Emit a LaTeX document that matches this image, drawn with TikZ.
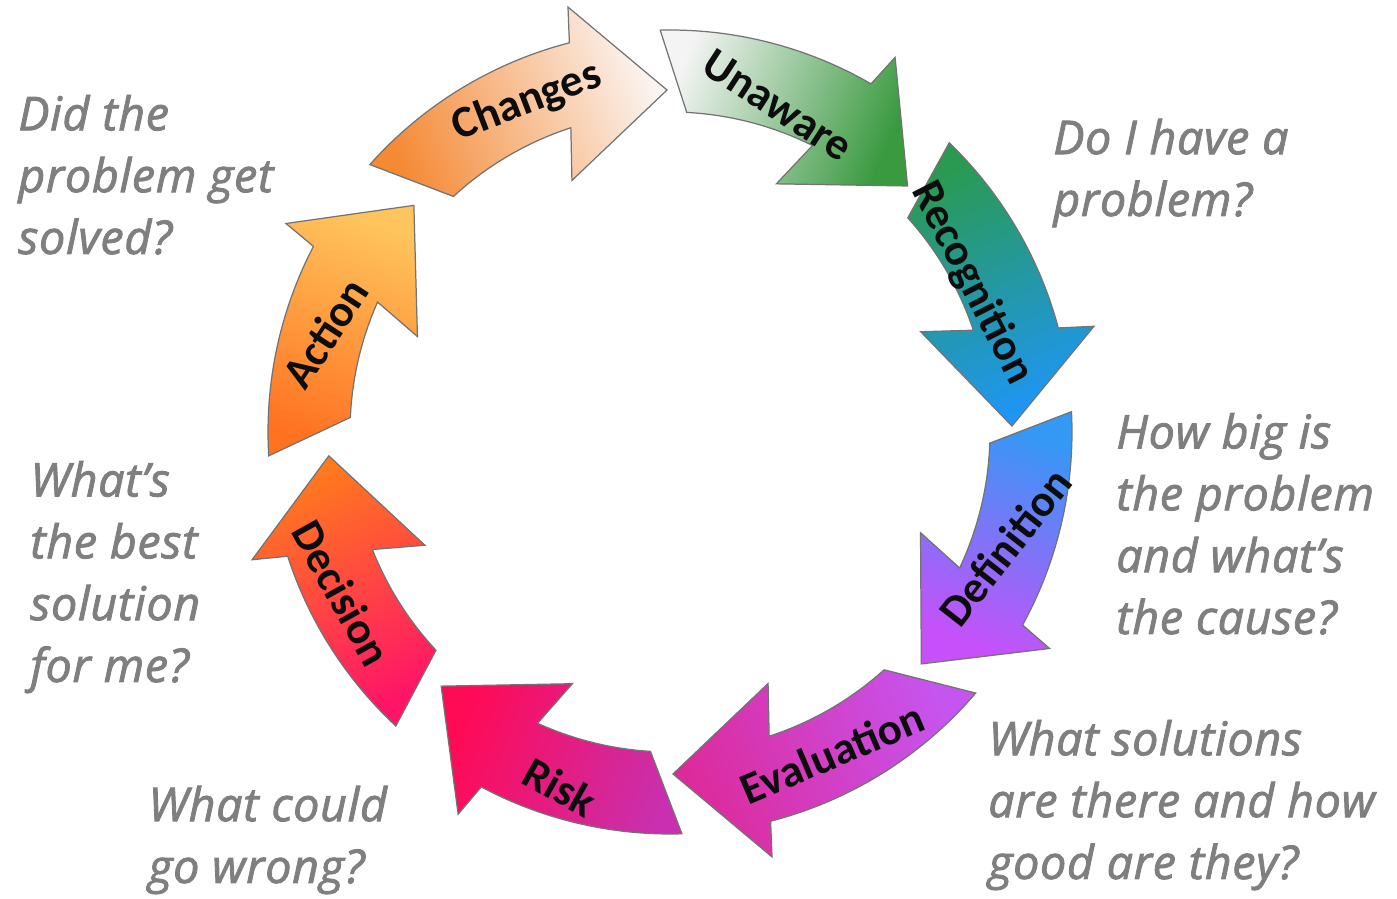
\documentclass[tikz,border=0pt]{standalone}
\usepackage{fontspec}
\setmainfont{Carlito}
\newfontfamily\qfont{Open Sans}[LetterSpace=1.5, ItalicFeatures={FakeBold=1.8}]
\definecolor{qgrey}{HTML}{7F7F7F}
\definecolor{chA}{HTML}{F58A35}\definecolor{chB}{HTML}{FBF5F2}
\definecolor{unA}{HTML}{F4F4F4}\definecolor{unB}{HTML}{3A9A40}
\definecolor{reA}{HTML}{2A9A50}\definecolor{reB}{HTML}{1E96F5}
\definecolor{deA}{HTML}{3399F5}\definecolor{deB}{HTML}{C850FA}
\definecolor{evA}{HTML}{C655F0}\definecolor{evB}{HTML}{DD2A9A}
\definecolor{riA}{HTML}{C92FAE}\definecolor{riB}{HTML}{FF0A55}
\definecolor{dcA}{HTML}{FF1468}\definecolor{dcB}{HTML}{FF7A1C}
\definecolor{acA}{HTML}{FF7222}\definecolor{acB}{HTML}{FFC45C}
\tikzset{
  arrowline/.style={draw=black!55, line width=0.7pt, line join=miter},
  lbl/.style={font=\bfseries\fontsize{25.5}{30}\selectfont, text=black!95, inner sep=0pt},
  qtext/.style={font=\qfont\itshape\fontsize{26.5}{35.2}\selectfont, text=qgrey, align=left, inner sep=0pt}
}
% #1 tip angle, #2 tail inner rel angle, #3 tail outer rel angle, #4 tail colour, #5 tip colour
\newcommand\cycarrow[5]{%
  \shadedraw[arrowline, top color=#4, bottom color=#5, shading angle={#1+21.5}]
    ({#1}:342) -- ({#1+20.8}:270) -- ({#1+17.55}:320)
    arc[start angle={#1+17.55}, end angle={#1+#2}, radius=320]
    -- ({#1+#3}:402)
    arc[start angle={#1+#3}, end angle={#1+14}, radius=402]
    -- ({#1+13}:437) -- cycle;
}
\begin{document}
\begin{tikzpicture}[x=0.02cm,y=0.02cm]
\useasboundingbox (0,0) rectangle (1397,899);
\fill[white] (0,0) rectangle (1397,899);
\begin{scope}[shift={(670,467)}]
  \cycarrow{90.5}{42.1}{47.8}{chA}{chB}
  \cycarrow{138.5}{38.9}{44.9}{acA}{acB}
  \cycarrow{-176}{39}{43}{dcA}{dcB}
  \cycarrow{-132}{38.5}{43.7}{riA}{riB}
  \cycarrow{-89.5}{41.5}{49}{evA}{evB}
  \cycarrow{-42.7}{40.7}{45.6}{deA}{deB}
  \cycarrow{1}{41}{45}{reA}{reB}
  \cycarrow{46}{41}{45.4}{unA}{unB}
\end{scope}
\node[lbl, rotate=21]  (lChanges) at (527,797) {Changes};
\node[lbl, rotate=-33] (lUnaware) at (778,794) {Unaware};
\node[lbl, rotate=-63] (lRecog) at (972,616) {Recognition};
\node[lbl, rotate=52]  (lDef) at (1005,352) {Definition};
\node[lbl, rotate=23]  (lEval) at (832,146) {Evaluation};
\node[lbl, rotate=-29] (lRisk) at (560,112) {Risk};
\node[lbl, rotate=-61] (lDec) at (342,306) {Decision};
\node[lbl, rotate=57]  (lAct) at (325,566) {Action};
% anchor = baseline of the last line
\node[qtext, anchor=base west] (q1) at (18,645) {Did the\\problem get\\solved?};
\node[qtext, anchor=base west] (q2) at (1053,683) {Do I have a\\problem?};
\node[qtext, anchor=base west] (q3) at (1116,265) {How big is\\the problem\\and what’s\\the cause?};
\node[qtext, anchor=base west] (q4) at (988,20) {What solutions\\are there and how\\good are they?};
\node[qtext, anchor=base west] (q5) at (148,16) {What could\\go wrong?};
\node[qtext, anchor=base west] (q6) at (30,217) {What’s\\the best\\solution\\for me?};
\end{tikzpicture}
\end{document}
